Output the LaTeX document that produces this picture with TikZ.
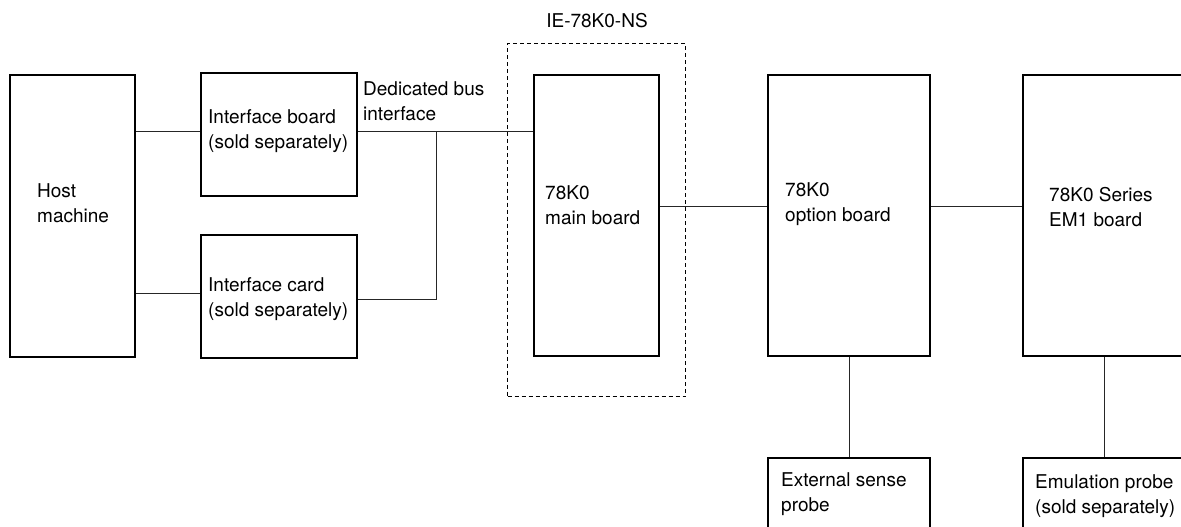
\documentclass[tikz,border=0pt]{standalone}
\usepackage{fontspec}
\newfontfamily\labelfont{TeX Gyre Heros}
\usepackage{tikz}

\begin{document}
\begin{tikzpicture}[
    x=1pt, y=-1pt,
    box/.style={draw, line width=2pt, inner sep=0pt, anchor=north west},
    tall/.style={box, minimum width=125, minimum height=281},
    wide/.style={box, minimum width=162, minimum height=281},
    card/.style={box, minimum width=156, minimum height=123},
    probe/.style={box, minimum width=162, minimum height=120},
    frame/.style={draw, line width=1pt, dash pattern=on 4pt off 3pt, inner sep=0pt, anchor=north west},
    txt/.style={font=\labelfont\fontsize{19}{25}\selectfont, align=left, inner sep=0pt, anchor=west},
    wire/.style={draw, line width=1pt, black!85}
]
\useasboundingbox (0,0) rectangle (1181,527);
\clip (0,0) rectangle (1181,527);

\node[tall, minimum height=282] (host) at (9,74) {};
\node[card] (ifboard) at (200,72) {};
\node[card] (ifcard) at (200,234) {};
\node[tall] (main) at (533,74) {};
\node[wide] (option) at (767,74) {};
\node[wide] (em1) at (1022,74) {};
\node[probe] (sense) at (767,457) {};
\node[probe] (emu) at (1022,457) {};
\node[frame, minimum width=178, minimum height=353] (ie) at (507,43) {};

\node[txt] (host-text) at (37,203) {Host\\machine};
\node[txt] (ifboard-text) at (208,131.5) {Interface board\\(sold separately)};
\node[txt] (ifcard-text) at (208,299.5) {Interface card\\(sold separately)};
\node[txt] (bus-text) at (363,101) {Dedicated bus\\interface};
\node[txt] (main-text) at (545,205) {78K0\\main board};
\node[txt] (option-text) at (785,204) {78K0\\option board};
\node[txt] (em1-text) at (1049,207) {78K0 Series\\EM1 board};
\node[txt] (sense-text) at (781,494.5) {External sense\\probe};
\node[txt] (emu-text) at (1035,496) {Emulation probe\\(sold separately)};
\node[txt, anchor=center] (ie-text) at (597,21) {IE-78K0-NS};

\coordinate (bus) at (436,131);
\draw[wire] (host.east |- 0,131) -- (ifboard.west |- 0,131);
\draw[wire] (host.east |- 0,293) -- (ifcard.west |- 0,293);
\draw[wire] (ifboard.east |- bus) -- (main.west |- bus);
\draw[wire] (ifcard.east |- 0,299) -| (bus);
\draw[wire] (main.east |- 0,206) -- (option.west |- 0,206);
\draw[wire] (option.east |- 0,206) -- (em1.west |- 0,206);
\draw[wire] (option.south) -- (sense.north);
\draw[wire] (em1.south) -- (emu.north);
\end{tikzpicture}
\end{document}
